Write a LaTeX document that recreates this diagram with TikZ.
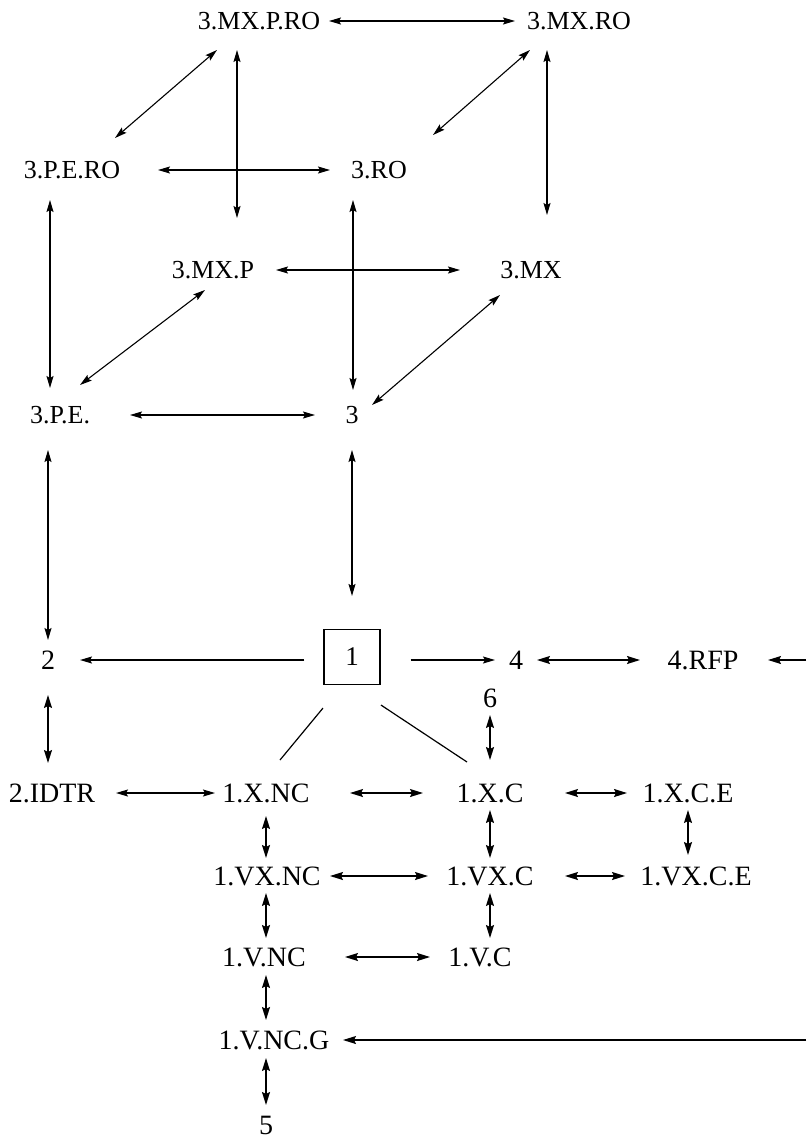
\documentclass[tikz,border=0pt]{standalone}
\usepackage{fontspec}
\setmainfont{Liberation Serif}
\usetikzlibrary{arrows.meta}
\begin{document}
\begin{tikzpicture}[x=1pt,y=-1pt,
  lbl/.style={inner sep=0pt, font=\fontsize{26}{30}\selectfont},
  lbll/.style={inner sep=0pt, font=\fontsize{28}{32}\selectfont},
  boxnode/.style={draw, line width=1.1pt, minimum width=56pt, minimum height=55pt, inner sep=0pt, font=\fontsize{27}{30}\selectfont},
  tip/.tip={Stealth[length=12pt,width=7pt,inset=2pt]},
  tipb/.tip={Stealth[length=13pt,width=8pt,inset=2pt]},
  dar/.style={line width=1.1pt, {tip}-{tip}},
  sar/.style={line width=1.2pt, -{tip}},
  darb/.style={line width=1.5pt, {tipb}-{tipb}},
  sarb/.style={line width=1.3pt, -{tipb}},
  pln/.style={line width=1.2pt}]
\useasboundingbox (0,0) rectangle (806,1138);
% nodes
\node[lbl] (mxpro) at (259,21) {3.MX.P.RO};
\node[lbl] (mxro) at (579,21) {3.MX.RO};
\node[lbl] (pero) at (72,170) {3.P.E.RO};
\node[lbl] (ro) at (379,170) {3.RO};
\node[lbl] (mxp) at (213,270) {3.MX.P};
\node[lbl] (mx) at (531,270) {3.MX};
\node[lbl] (pe) at (60,415) {3.P.E.};
\node[lbl] (three) at (352,415) {3};
\node[lbll] (two) at (48,660) {2};
\node[boxnode] (one) at (352,657) {1};
\node[lbll] (four) at (516,660) {4};
\node[lbll] (rfp) at (703,660) {4.RFP};
\node[lbll] (six) at (490,698) {6};
\node[lbll] (idtr) at (52,793) {2.IDTR};
\node[lbll] (xnc) at (266,793) {1.X.NC};
\node[lbll] (xc) at (490,793) {1.X.C};
\node[lbll] (xce) at (688,793) {1.X.C.E};
\node[lbll] (vxnc) at (267,876) {1.VX.NC};
\node[lbll] (vxc) at (490,876) {1.VX.C};
\node[lbll] (vxce) at (696,876) {1.VX.C.E};
\node[lbll] (vnc) at (264,957) {1.V.NC};
\node[lbll] (vc) at (480,957) {1.V.C};
\node[lbll] (vncg) at (274,1040) {1.V.NC.G};
\node[lbll] (five) at (266,1125) {5};
\coordinate (rfpin) at (806,660);
\coordinate (vncgin) at (806,1040);
% cube
\draw[dar] ([xshift=70pt]mxpro.center) -- ([xshift=-64pt]mxro.center);
\draw[dar] ([xshift=86pt]pero.center) -- ([xshift=-49pt]ro.center);
\draw[dar] ([xshift=-22pt,yshift=-29pt]mxpro.center) -- ([xshift=24pt,yshift=52pt]mxp.center);
\draw[dar] ([xshift=-32pt,yshift=-29pt]mxro.center) -- ([xshift=16pt,yshift=55pt]mx.center);
\draw[dar] ([xshift=-42pt,yshift=-29pt]mxpro.center) -- ([xshift=43pt,yshift=32pt]pero.center);
\draw[dar] ([xshift=-49pt,yshift=-29pt]mxro.center) -- ([xshift=54pt,yshift=35pt]ro.center);
\draw[dar] ([xshift=63pt]mxp.center) -- ([xshift=-71pt]mx.center);
\draw[dar] ([xshift=-22pt,yshift=-30pt]pero.center) -- ([xshift=-10pt,yshift=27pt]pe.center);
\draw[dar] ([xshift=-26pt,yshift=-30pt]ro.center) -- ([xshift=1pt,yshift=25pt]three.center);
\draw[dar] ([xshift=-8pt,yshift=-20pt]mxp.center) -- ([xshift=20pt,yshift=30pt]pe.center);
\draw[dar] ([xshift=-31pt,yshift=-25pt]mx.center) -- ([xshift=20pt,yshift=10pt]three.center);
\draw[dar] ([xshift=70pt]pe.center) -- ([xshift=-37pt]three.center);
% middle
\draw[dar] ([xshift=-12pt,yshift=-35pt]pe.center) -- ([yshift=20pt]two.center);
\draw[dar] ([yshift=-35pt]three.center) -- ([yshift=33pt]one.north);
\draw[sar] ([xshift=-19pt,yshift=-3pt]one.west) -- ([xshift=32pt]two.center);
\draw[sar] ([xshift=30pt,yshift=-3pt]one.east) -- ([xshift=-21pt]four.center);
\draw[darb] ([xshift=21pt]four.center) -- ([xshift=-63pt]rfp.center);
\draw[sarb] (rfpin) -- ([xshift=65pt]rfp.center);
\draw[darb] ([yshift=-17pt]six.center) -- ([yshift=33pt]xc.center);
\draw[pln] ([xshift=-29pt,yshift=-23pt]one.south) -- ([xshift=14pt,yshift=33pt]xnc.center);
\draw[pln] ([xshift=29pt,yshift=-20pt]one.south) -- ([xshift=-23pt,yshift=31pt]xc.center);
% lower grid
\draw[darb] ([yshift=-35pt]two.center) -- ([xshift=-4pt,yshift=30pt]idtr.center);
\draw[dar] ([xshift=64pt]idtr.center) -- ([xshift=-51pt]xnc.center);
\draw[darb] ([xshift=84pt]xnc.center) -- ([xshift=-67pt]xc.center);
\draw[darb] ([xshift=75pt]xc.center) -- ([xshift=-61pt]xce.center);
\draw[darb] ([yshift=-23pt]xnc.center) -- ([xshift=-1pt,yshift=18pt]vxnc.center);
\draw[darb] ([yshift=-17pt]xc.center) -- ([yshift=18pt]vxc.center);
\draw[darb] ([yshift=-17pt]xce.center) -- ([xshift=-8pt,yshift=21pt]vxce.center);
\draw[darb] ([xshift=63pt]vxnc.center) -- ([xshift=-62pt]vxc.center);
\draw[darb] ([xshift=75pt]vxc.center) -- ([xshift=-71pt]vxce.center);
\draw[darb] ([xshift=-1pt,yshift=-17pt]vxnc.center) -- ([xshift=2pt,yshift=19pt]vnc.center);
\draw[darb] ([yshift=-17pt]vxc.center) -- ([xshift=10pt,yshift=19pt]vc.center);
\draw[darb] ([xshift=81pt]vnc.center) -- ([xshift=-50pt]vc.center);
\draw[darb] ([xshift=2pt,yshift=-18pt]vnc.center) -- ([xshift=-8pt,yshift=20pt]vncg.center);
\draw[sarb] (vncgin) -- ([xshift=69pt]vncg.center);
\draw[darb] ([xshift=-8pt,yshift=-18pt]vncg.center) -- ([yshift=20pt]five.center);
\end{tikzpicture}
\end{document}
